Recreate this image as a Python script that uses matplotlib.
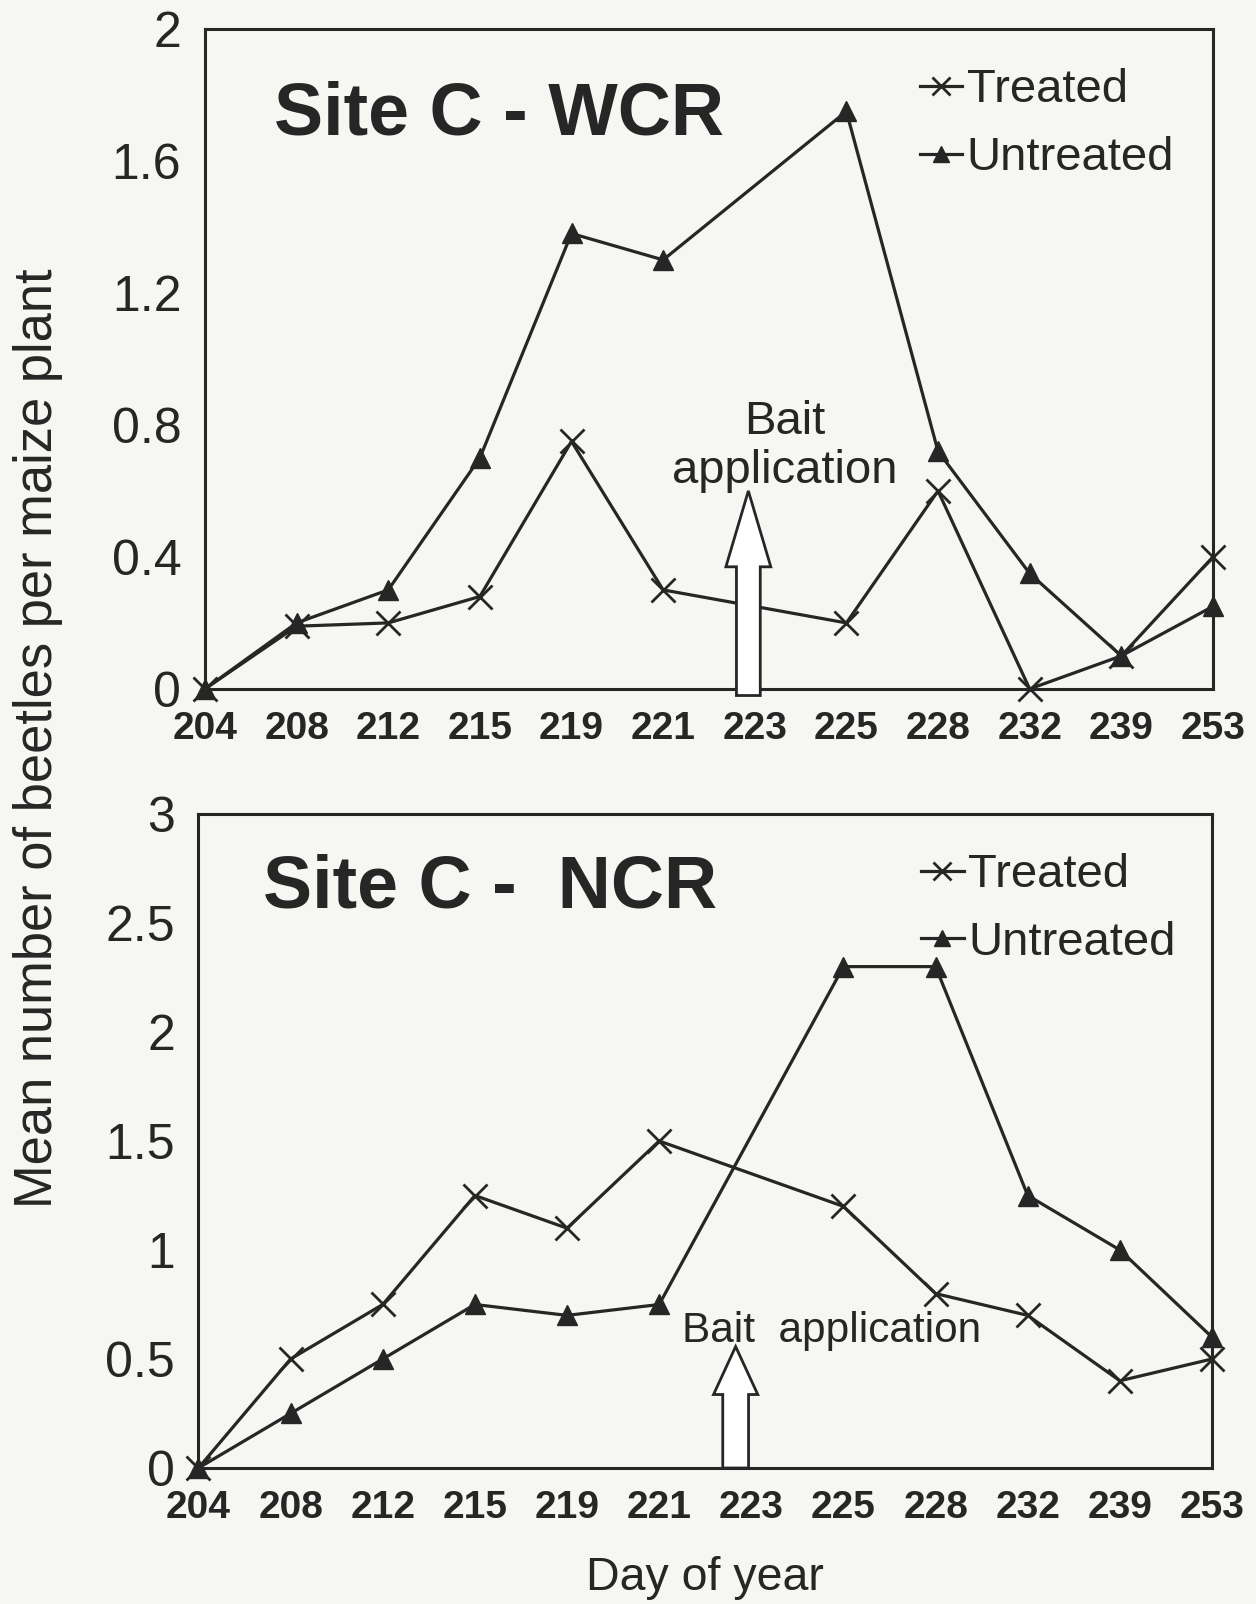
import numpy as np
import matplotlib
matplotlib.use("Agg")
import matplotlib.pyplot as plt
from matplotlib.patches import FancyArrow

plt.rcParams['font.family'] = ['Liberation Sans', 'DejaVu Sans']

days = ['204', '208', '212', '215', '219', '221', '223', '225', '228', '232', '239', '253']
# day 223 has no sample (bait application day)
sampled = ['204', '208', '212', '215', '219', '221', '225', '228', '232', '239', '253']

wcr_treated = [0, 0.19, 0.20, 0.28, 0.75, 0.30, 0.20, 0.60, 0.0, 0.10, 0.40]
wcr_untreated = [0, 0.20, 0.30, 0.70, 1.38, 1.30, 1.75, 0.72, 0.35, 0.10, 0.25]
ncr_treated = [0, 0.50, 0.75, 1.25, 1.10, 1.50, 1.20, 0.80, 0.70, 0.40, 0.50]
ncr_untreated = [0, 0.25, 0.50, 0.75, 0.70, 0.75, 2.30, 2.30, 1.25, 1.00, 0.60]

wcr_yticks = [0, 0.4, 0.8, 1.2, 1.6, 2.0]
wcr_ylabels = ['0', '0.4', '0.8', '1.2', '1.6', '2']
ncr_yticks = [0, 0.5, 1.0, 1.5, 2.0, 2.5, 3.0]
ncr_ylabels = ['0', '0.5', '1', '1.5', '2', '2.5', '3']

bg = '#f6f6f2'
ink = '#262626'

fig = plt.figure(figsize=(12.56, 16.04), dpi=100, facecolor=bg)
ax1 = fig.add_axes([0.1632, 0.5705, 0.8025, 0.4115])
ax2 = fig.add_axes([0.1580, 0.0848, 0.8070, 0.4077])

xs = [days.index(d) for d in sampled]


def draw_panel(ax, treated, untreated, yticks, ylabels, title, title_pos, leg_pos):
    ax.set_facecolor(bg)
    ax.plot(xs, treated, color=ink, lw=2.3, marker='x', ms=17, mew=2.0,
            label='Treated', clip_on=False, zorder=3)
    ax.plot(xs, untreated, color=ink, lw=2.3, marker='^', ms=15,
            label='Untreated', clip_on=False, zorder=3)
    ax.set_xlim(0, len(days) - 1)
    ax.set_ylim(yticks[0], yticks[-1])
    ax.set_xticks(range(len(days)))
    ax.set_xticklabels(days, fontsize=28, fontweight='bold', color=ink)
    ax.set_yticks(yticks)
    ax.set_yticklabels(ylabels, fontsize=36, color=ink)
    ax.tick_params(axis='x', length=0, pad=16)
    ax.tick_params(axis='y', length=0, pad=17)
    for s in ax.spines.values():
        s.set_linewidth(2.2)
        s.set_color(ink)
    ax.text(title_pos[0], title_pos[1], title, transform=ax.transAxes,
            fontsize=53, fontweight='bold', color=ink, ha='left', va='center')
    leg = ax.legend(loc='upper left', bbox_to_anchor=leg_pos, frameon=False,
                    fontsize=34, handlelength=0.9, handletextpad=0.1,
                    borderpad=0, borderaxespad=0, labelspacing=0.5,
                    markerscale=0.8)
    for t in leg.get_texts():
        t.set_color(ink)


draw_panel(ax1, wcr_treated, wcr_untreated, wcr_yticks, wcr_ylabels,
           'Site C - WCR', (0.068, 0.869), (0.709, 0.94))
draw_panel(ax2, ncr_treated, ncr_untreated, ncr_yticks, ncr_ylabels,
           'Site C -  NCR', (0.064, 0.887), (0.713, 0.94))

# bait application arrows
ax1.add_patch(FancyArrow(5.93, -0.02, 0, 0.62, width=0.26, head_width=0.49,
                         head_length=0.23, length_includes_head=True,
                         facecolor='white', edgecolor=ink, lw=2.0,
                         clip_on=False, zorder=4))
ax1.text(6.33, 0.735, 'Bait\napplication', fontsize=34, color=ink,
         ha='center', va='center', linespacing=1.15)

ax2.add_patch(FancyArrow(5.83, 0, 0, 0.557, width=0.28, head_width=0.48,
                         head_length=0.22, length_includes_head=True,
                         facecolor='white', edgecolor=ink, lw=2.0,
                         clip_on=False, zorder=4))
ax2.text(6.87, 0.63, 'Bait  application', fontsize=30.5, color=ink,
         ha='center', va='center')

fig.text(0.030, 0.5396, 'Mean number of beetles per maize plant', rotation=90,
         fontsize=37.8, color=ink, ha='center', va='center')
fig.text(0.561, 0.016, 'Day of year', fontsize=33.5, color=ink,
         ha='center', va='center')

fig.savefig('out.png', dpi=100, facecolor=bg)
